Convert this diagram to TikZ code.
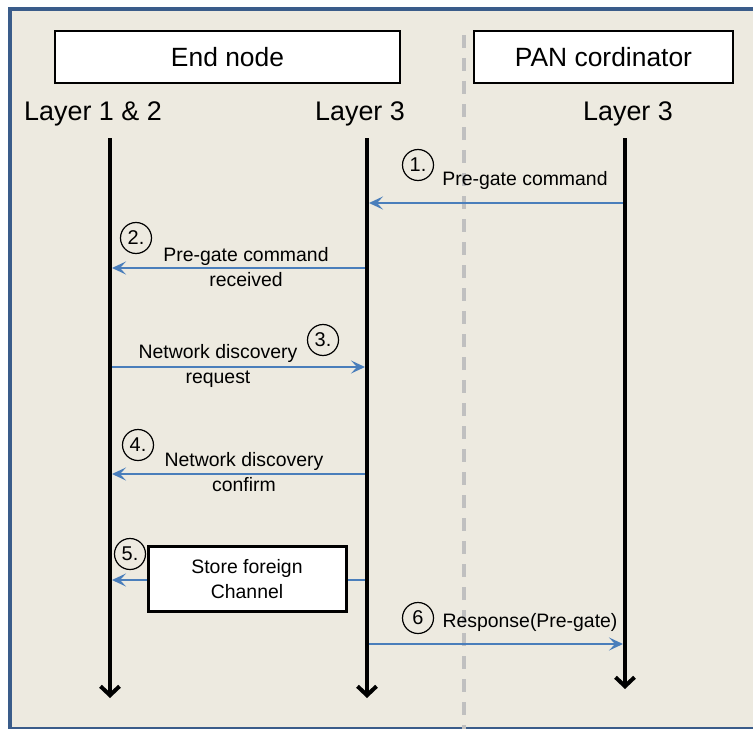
\documentclass[tikz,border=0pt]{standalone}
\usepackage{fontspec}
\setmainfont{Liberation Sans}
\usetikzlibrary{arrows.meta}
\definecolor{bgbeige}{RGB}{237,234,224}
\definecolor{framebl}{RGB}{58,92,138}
\definecolor{msgblue}{RGB}{74,126,187}
\definecolor{dashgray}{RGB}{192,192,192}
\tikzset{
  titlebox/.style={draw=black, line width=1.5bp, fill=white, inner sep=0pt, font=\fontsize{26.5}{30}\selectfont},
  layerlabel/.style={font=\fontsize{27}{30}\selectfont, inner sep=0pt},
  lifeline/.style={line width=4bp, -{Straight Barb[length=9bp,width=19bp,line width=4bp]}},
  msg/.style={draw=msgblue, line width=2bp, -{Stealth[length=14bp,width=13bp,inset=6bp]}},
  msglabel/.style={font=\fontsize{19.5}{25.5}\selectfont, align=center, inner sep=0pt},
  stepnum/.style={draw=black, circle, line width=1.2bp, minimum size=31bp, inner sep=0pt, font=\fontsize{20}{22}\selectfont},
  storebox/.style={draw=black, line width=3bp, fill=white, inner sep=0pt, align=center, font=\fontsize{19.5}{25.5}\selectfont}
}
\begin{document}
\begin{tikzpicture}[x=1bp,y=-1bp]
\useasboundingbox (0,0) rectangle (753,729);
% frame
\fill[bgbeige] (10,9) rectangle (753,729);
\draw[framebl, line width=3.5bp] (753,9) -- (10,9) -- (10,729);
\draw[framebl, line width=2bp] (10,727.5) -- (753,727.5);
% divider
\draw[dashgray, line width=3.5bp, dash pattern=on 13bp off 10bp] (464,35) -- (464,729);
% title boxes
\node[titlebox, minimum width=345bp, minimum height=52bp] (endnode) at (227.5,57) {End node};
\node[titlebox, minimum width=259bp, minimum height=52bp] (pan) at (603.5,57) {PAN cordinator};
% layer labels
\node[layerlabel] (l12) at (93,114) {Layer 1 \& 2};
\node[layerlabel] (l3a) at (360,114) {Layer 3};
\node[layerlabel] (l3b) at (628,114) {Layer 3};
% lifelines
\coordinate (aTop) at (110,138);
\coordinate (aBot) at (110,698);
\coordinate (bTop) at (367,138);
\coordinate (bBot) at (367,698);
\coordinate (cTop) at (625,138);
\coordinate (cBot) at (625,689);
\draw[lifeline] (aTop) -- (aBot);
\draw[lifeline] (bTop) -- (bBot);
\draw[lifeline] (cTop) -- (cBot);
% message endpoints
\coordinate (m1s) at (623,203);  \coordinate (m1e) at (369,203);
\coordinate (m2s) at (365,268);  \coordinate (m2e) at (112,268);
\coordinate (m3s) at (112,367);  \coordinate (m3e) at (365,367);
\coordinate (m4s) at (365,474);  \coordinate (m4e) at (112,474);
\coordinate (m5s) at (365,580);  \coordinate (m5e) at (112,580);
\coordinate (m6s) at (369,644);  \coordinate (m6e) at (623,644);
% messages
\draw[msg] (m1s) -- (m1e);
\node[msglabel] (t1) at (525,180) {Pre-gate command};
\node[stepnum] (n1) at (418,165) {1.};

\draw[msg] (m2s) -- (m2e);
\node[msglabel] (t2) at (246,267) {Pre-gate command\\received};
\node[stepnum] (n2) at (136,238) {2.};

\draw[msg] (m3s) -- (m3e);
\node[msglabel] (t3) at (218,366) {Network discovery\\request};
\node[stepnum] (n3) at (323,340) {3.};

\draw[msg] (m4s) -- (m4e);
\node[msglabel] (t4) at (244,472) {Network discovery\\confirm};
\node[stepnum] (n4) at (138,445) {4.};

\draw[msg] (m5s) -- (m5e);
\node[storebox, minimum width=198bp, minimum height=65bp] (store) at (247,579) {Store foreign\\Channel};
\node[stepnum] (n5) at (130,554) {5.};

\draw[msg] (m6s) -- (m6e);
\node[msglabel] (t6) at (530,622) {Response(Pre-gate)};
\node[stepnum] (n6) at (418,618) {6};
\end{tikzpicture}
\end{document}
